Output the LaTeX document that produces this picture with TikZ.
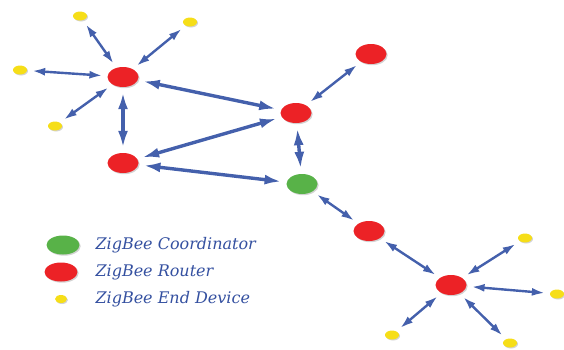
\documentclass[tikz,border=0pt]{standalone}
\usepackage{fontspec}
\setmainfont{Liberation Serif}
\newfontfamily\legendfont{DejaVu Serif}
\usetikzlibrary{arrows.meta,shadows,shapes.geometric}
\definecolor{zbred}{RGB}{236,34,38}
\definecolor{zbgreen}{RGB}{88,178,72}
\definecolor{zbyellow}{RGB}{246,222,24}
\definecolor{zbblue}{RGB}{68,96,172}
\definecolor{zbtext}{RGB}{52,80,160}
\tikzset{
  router/.style={ellipse,fill=zbred,minimum width=31pt,minimum height=20pt,inner sep=0pt,
    drop shadow={opacity=0.35,shadow xshift=1.2pt,shadow yshift=-1.2pt}},
  coord/.style={router,fill=zbgreen},
  enddev/.style={ellipse,fill=zbyellow,minimum width=14pt,minimum height=9pt,inner sep=0pt,
    drop shadow={opacity=0.35,shadow xshift=1pt,shadow yshift=-1pt}},
  link/.style={draw=zbblue,line width=3.4pt,shorten <=5pt,shorten >=5pt,
    {Latex[length=17pt,width=10pt]}-{Latex[length=17pt,width=10pt]}},
  thin link/.style={link,line width=2.4pt,{Latex[length=13pt,width=8pt]}-{Latex[length=13pt,width=8pt]}},
  legend/.style={anchor=west,text=zbtext,font=\legendfont\itshape\fontsize{16}{18}\selectfont}
}
\begin{document}
\begin{tikzpicture}[x=1pt,y=-1pt]
    \useasboundingbox (0,0) rectangle (564,349);
    % Routers and the coordinator
    \node[router] (r1) at (123,77) {};
    \node[router] (r2) at (123,163) {};
    \node[router] (r3) at (296,113) {};
    \node[router] (r4) at (371,54) {};
    \node[coord]  (c)  at (302,184) {};
    \node[router] (r5) at (369,231) {};
    \node[router] (r6) at (451,285) {};
    % End devices round the two outer routers
    \node[enddev] (e1) at (80,16) {};
    \node[enddev] (e2) at (190,22) {};
    \node[enddev] (e3) at (20,70) {};
    \node[enddev] (e4) at (55,126) {};
    \node[enddev] (e5) at (525,238) {};
    \node[enddev] (e6) at (557,294) {};
    \node[enddev] (e7) at (392,335) {};
    \node[enddev] (e8) at (510,343) {};
    % Links between the nodes
    \draw[link] (r1) -- (r2);
    \draw[link] (r1) -- (r3);
    \draw[link] (r2) -- (r3);
    \draw[link] (r2) -- (c);
    \draw[link] (r3) -- (c);
    \draw[thin link] (r3) -- (r4);
    \draw[thin link] (c) -- (r5);
    \draw[thin link] (r5) -- (r6);
    \draw[thin link] (r1) -- (e1);
    \draw[thin link] (r1) -- (e2);
    \draw[thin link] (r1) -- (e3);
    \draw[thin link] (r1) -- (e4);
    \draw[thin link] (r6) -- (e5);
    \draw[thin link] (r6) -- (e6);
    \draw[thin link] (r6) -- (e7);
    \draw[thin link] (r6) -- (e8);
    % Legend
    \node[coord,minimum width=33pt,minimum height=19pt] (lc) at (63,245) {};
    \node[router,minimum width=33pt,minimum height=19pt] (lr) at (61,272) {};
    \node[enddev,minimum width=12pt,minimum height=8pt] (le) at (61,299) {};
    \node[legend] (tc) at (92,245) {ZigBee Coordinator};
    \node[legend] (tr) at (92,272) {ZigBee Router};
    \node[legend] (te) at (92,299) {ZigBee End Device};
\end{tikzpicture}
\end{document}
